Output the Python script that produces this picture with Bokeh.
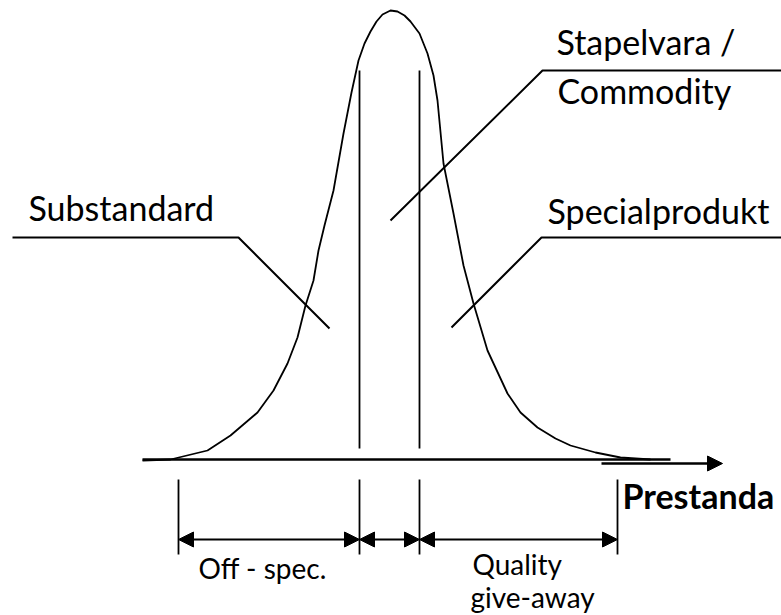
from bokeh.plotting import figure
from bokeh.models import Range1d, Arrow, NormalHead, Label
from bokeh.embed import file_html
from bokeh.resources import INLINE

# ---- data (diagram coordinates, y grows downward) ----
curve_x = [142, 170, 207, 230, 257, 273, 287, 297, 305, 313, 318, 324, 333, 343, 351, 358, 364, 370, 376, 382,
           390, 397, 404, 410, 419, 427, 433, 437, 443, 453, 463, 473, 487, 507, 520, 537, 555, 570, 595, 620, 650]
curve_y = [460, 459, 450, 435, 412, 390, 363, 337, 305, 280, 250, 225, 190, 133, 92, 60, 43, 31, 21, 14,
           10, 11, 15, 21, 33, 53, 75, 100, 163, 213, 265, 303, 350, 393, 412, 427, 438, 445, 452, 457, 459]

spec_limits = [359, 419]
range_marks = [178, 359, 419, 617]

axis_main = ([142, 670], [459, 459])
axis_arrow = (601, 722, 463)

leaders = {
    "Substandard": ([12, 238, 329], [237, 237, 328]),
    "Stapelvara": ([390, 542, 781], [220, 70, 70]),
    "Specialprodukt": ([451, 541, 781], [327, 237, 237]),
}

# text, left x, baseline y, style, size(px)
labels = [
    ("Substandard", 28, 219, "normal", 34),
    ("Stapelvara /", 556, 53, "normal", 34),
    ("Commodity", 557, 102, "normal", 34),
    ("Specialprodukt", 547, 222, "normal", 34),
    ("Prestanda", 622, 507, "bold", 34),
    ("Off - spec.", 198, 577, "normal", 28),
    ("Quality", 472, 573, "normal", 28),
    ("give-away", 470, 606, "normal", 28),
]

FONT = "Lato"
W, H = 781, 615
BASELINE_FIX = 0.34  # renderer places the alphabetic baseline lower than the anchor

p = figure(width=W, height=H, x_range=Range1d(0, W), y_range=Range1d(H, 0),
           x_axis_type=None, y_axis_type=None, toolbar_location=None,
           output_backend="svg", min_border=0, outline_line_color=None,
           background_fill_color="white", border_fill_color="white")
p.grid.visible = False

# distribution curve
p.line(curve_x, curve_y, line_color="black", line_width=1.8, line_join="round")

# main axis
p.line(axis_main[0], axis_main[1], line_color="black", line_width=2.5)
p.add_layout(Arrow(end=NormalHead(size=15, fill_color="black", line_color="black"),
                   x_start=axis_arrow[0], y_start=axis_arrow[2],
                   x_end=axis_arrow[1], y_end=axis_arrow[2],
                   line_color="black", line_width=2.5))

# spec limit lines
for x in spec_limits:
    p.line([x, x], [70, 448], line_color="black", line_width=1.8)

# range tick marks
for x in range_marks:
    p.line([x, x], [479, 554], line_color="black", line_width=1.8)

# double arrows
for a, b in zip(range_marks[:-1], range_marks[1:]):
    p.add_layout(Arrow(start=NormalHead(size=15, fill_color="black", line_color="black"),
                       end=NormalHead(size=15, fill_color="black", line_color="black"),
                       x_start=a, y_start=539, x_end=b, y_end=539,
                       line_color="black", line_width=2))

# leader lines
for k, (xs, ys) in leaders.items():
    p.line(xs, ys, line_color="black", line_width=2)

for text, x, y, style, fs in labels:
    p.add_layout(Label(x=x, y=y - BASELINE_FIX * fs, text=text, text_font=FONT,
                       text_font_size=f"{fs}px", text_font_style=style, text_color="black",
                       text_align="left", text_baseline="alphabetic"))

open("out.html", "w").write(file_html(p, INLINE))
